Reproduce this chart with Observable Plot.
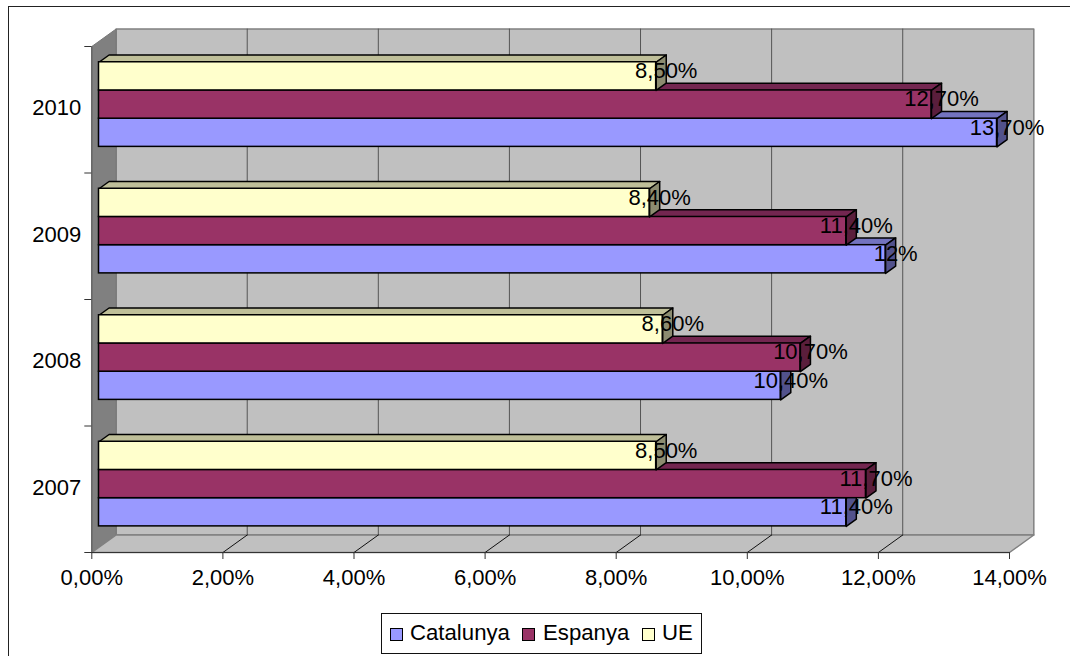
<!DOCTYPE html>
<html>
<head>
<meta charset="utf-8">
<script src="https://cdn.jsdelivr.net/npm/d3@7"></script>
<script src="https://cdn.jsdelivr.net/npm/@observablehq/plot@0.6"></script>
<style>
html,body{margin:0;padding:0;background:#fff;overflow:hidden}
#page{position:relative;width:1070px;height:656px;overflow:hidden;font-family:"Liberation Sans",Arial,sans-serif}
#frame{position:absolute;left:8px;top:6px;width:1070px;height:660px;border-left:1px solid #222;border-top:1px solid #222;box-sizing:border-box}
#chart{position:absolute;left:0;top:0}
#chart svg{display:block;background:transparent}
#legend{position:absolute;left:381px;top:613px;width:321px;height:41px;box-sizing:border-box;border:1px solid #111;background:#fff;font-size:22.2px;color:#000}
#legend i{position:absolute;top:13.5px;width:13px;height:13px;box-sizing:border-box;border:1.3px solid #000}
#legend span{position:absolute;top:6px;line-height:25px;white-space:nowrap}
</style>
</head>
<body>
<div id="page"><div id="frame"></div><div id="chart"></div><div id="legend"></div></div>
<script>
const years = ["2007", "2008", "2009", "2010"];
const seriesNames = ["Catalunya", "Espanya", "UE"];
const catalunya = [11.4, 10.4, 12, 13.7];
const espanya = [11.7, 10.7, 11.4, 12.7];
const ue = [8.5, 8.6, 8.4, 8.5];
const frontColors = ["#9999FF", "#993366", "#FFFFCC"];
const topColors = ["#7373BF", "#732650", "#BFBF99"];
const sideColors = ["#52528C", "#5A1E3C", "#8C8C70"];
const xTicks = [0, 2, 4, 6, 8, 10, 12, 14];

// depth of the oblique projection, in data units per unit of depth
const kx = 0.371, ky = 0.1383;
const P = (v, y, d) => ({x: v + kx * d, y: y + ky * d});
const barH = 0.223, d0 = 0.296, d1 = 0.71;
const values = [catalunya, espanya, ue];

const poly = (id, pts) => pts.map(([v, y, d]) => ({id, ...P(v, y, d)}));
const wall = poly("w", [[0,0,1],[14,0,1],[14,4,1],[0,4,1],[0,0,1]]);
const side = poly("s", [[0,0,0],[0,0,1],[0,4,1],[0,4,0],[0,0,0]]);
const floor = poly("f", [[0,0,0],[14,0,0],[14,0,1],[0,0,1],[0,0,0]]);
const inner = xTicks.slice(1, -1);
const gridBack = inner.flatMap(t => poly("g" + t, [[t,0,1],[t,4,1]]));
const gridFloor = inner.flatMap(t => poly("d" + t, [[t,0,0],[t,0,1]]));

const barMarks = seriesNames.flatMap((name, j) => {
  const bars = years.map((yr, i) => {
    const c = i + 0.5 + (j - 1) * barH;
    return {yr, name, v: values[j][i], lo: c - barH / 2, hi: c + barH / 2};
  });
  const tops = bars.flatMap(b => poly("t" + b.yr, [[0,b.hi,d0],[b.v,b.hi,d0],[b.v,b.hi,d1],[0,b.hi,d1],[0,b.hi,d0]]));
  const sides = bars.flatMap(b => poly("r" + b.yr, [[b.v,b.lo,d0],[b.v,b.hi,d0],[b.v,b.hi,d1],[b.v,b.lo,d1],[b.v,b.lo,d0]]));
  const front = bars.map(b => ({name, a: P(0, b.lo, d0), b: P(b.v, b.hi, d0)}));
  return [
    Plot.line(tops, {x: "x", y: "y", z: "id", fill: topColors[j], stroke: "#000", strokeWidth: 1.5}),
    Plot.line(sides, {x: "x", y: "y", z: "id", fill: sideColors[j], stroke: "#000", strokeWidth: 1.5}),
    Plot.rect(front, {x1: d => d.a.x, x2: d => d.b.x, y1: d => d.a.y, y2: d => d.b.y, fill: "name", stroke: "#000", strokeWidth: 1.5})
  ];
});

const fmt = v => Number.isInteger(v) ? v + "%" : v.toFixed(2).replace(".", ",") + "%";
const labels = seriesNames.flatMap((name, j) => years.map((yr, i) => {
  const p = P(values[j][i], i + 0.5 + (j - 1) * barH, d1);
  return {...p, t: fmt(values[j][i])};
}));

const plot = Plot.plot({
  width: 1070, height: 612,
  marginLeft: 91.3, marginRight: 61, marginTop: 46, marginBottom: 60,
  style: {fontFamily: '"Liberation Sans", Arial, sans-serif', fontSize: "22px", color: "#000", background: "transparent", overflow: "visible"},
  x: {domain: [0, 14], label: null},
  y: {domain: [0, 4], label: null},
  color: {domain: seriesNames, range: frontColors},
  marks: [
    Plot.line(wall, {x: "x", y: "y", z: "id", fill: "#C0C0C0", stroke: "#808080", strokeWidth: 1.5}),
    Plot.line(side, {x: "x", y: "y", z: "id", fill: "#808080", stroke: "#777", strokeWidth: 1}),
    Plot.line(floor, {x: "x", y: "y", z: "id", fill: "#C0C0C0", stroke: "#808080", strokeWidth: 1.5}),
    Plot.line(gridBack, {x: "x", y: "y", z: "id", stroke: "#555", strokeWidth: 1}),
    Plot.line(gridFloor, {x: "x", y: "y", z: "id", stroke: "#111", strokeWidth: 1}),
    Plot.ruleY([0], {stroke: "#333", strokeWidth: 1.2}),
    Plot.ruleX([0], {stroke: "#555", strokeWidth: 1}),
    Plot.axisY({ticks: [0, 1, 2, 3, 4], tickSize: 7, tickFormat: () => "", stroke: "#333", strokeOpacity: 1, label: null}),
    Plot.axisY({ticks: [0.5, 1.5, 2.5, 3.5], tickSize: 0, tickPadding: 10.6, tickFormat: d => years[d - 0.5], fontSize: 22, fill: "#000", label: null, dy: -1.5}),
    Plot.axisX({ticks: xTicks, tickSize: 7, tickPadding: 10, tickFormat: d => d.toFixed(2).replace(".", ",") + "%", fontSize: 22, fill: "#000", stroke: "#333", strokeOpacity: 1, label: null}),
    ...barMarks,
    Plot.text(labels, {x: "x", y: "y", text: "t", fontSize: 22, fill: "#000", dy: 2})
  ]
});
document.getElementById("chart").appendChild(plot);

const swatchX = [8, 140, 260], textX = [28, 161, 280];
const legend = document.getElementById("legend");
seriesNames.forEach((name, j) => {
  const s = document.createElement("i");
  s.style.left = swatchX[j] + "px";
  s.style.background = frontColors[j];
  legend.appendChild(s);
  const t = document.createElement("span");
  t.style.left = textX[j] + "px";
  t.textContent = name;
  legend.appendChild(t);
});
</script>
</body>
</html>
